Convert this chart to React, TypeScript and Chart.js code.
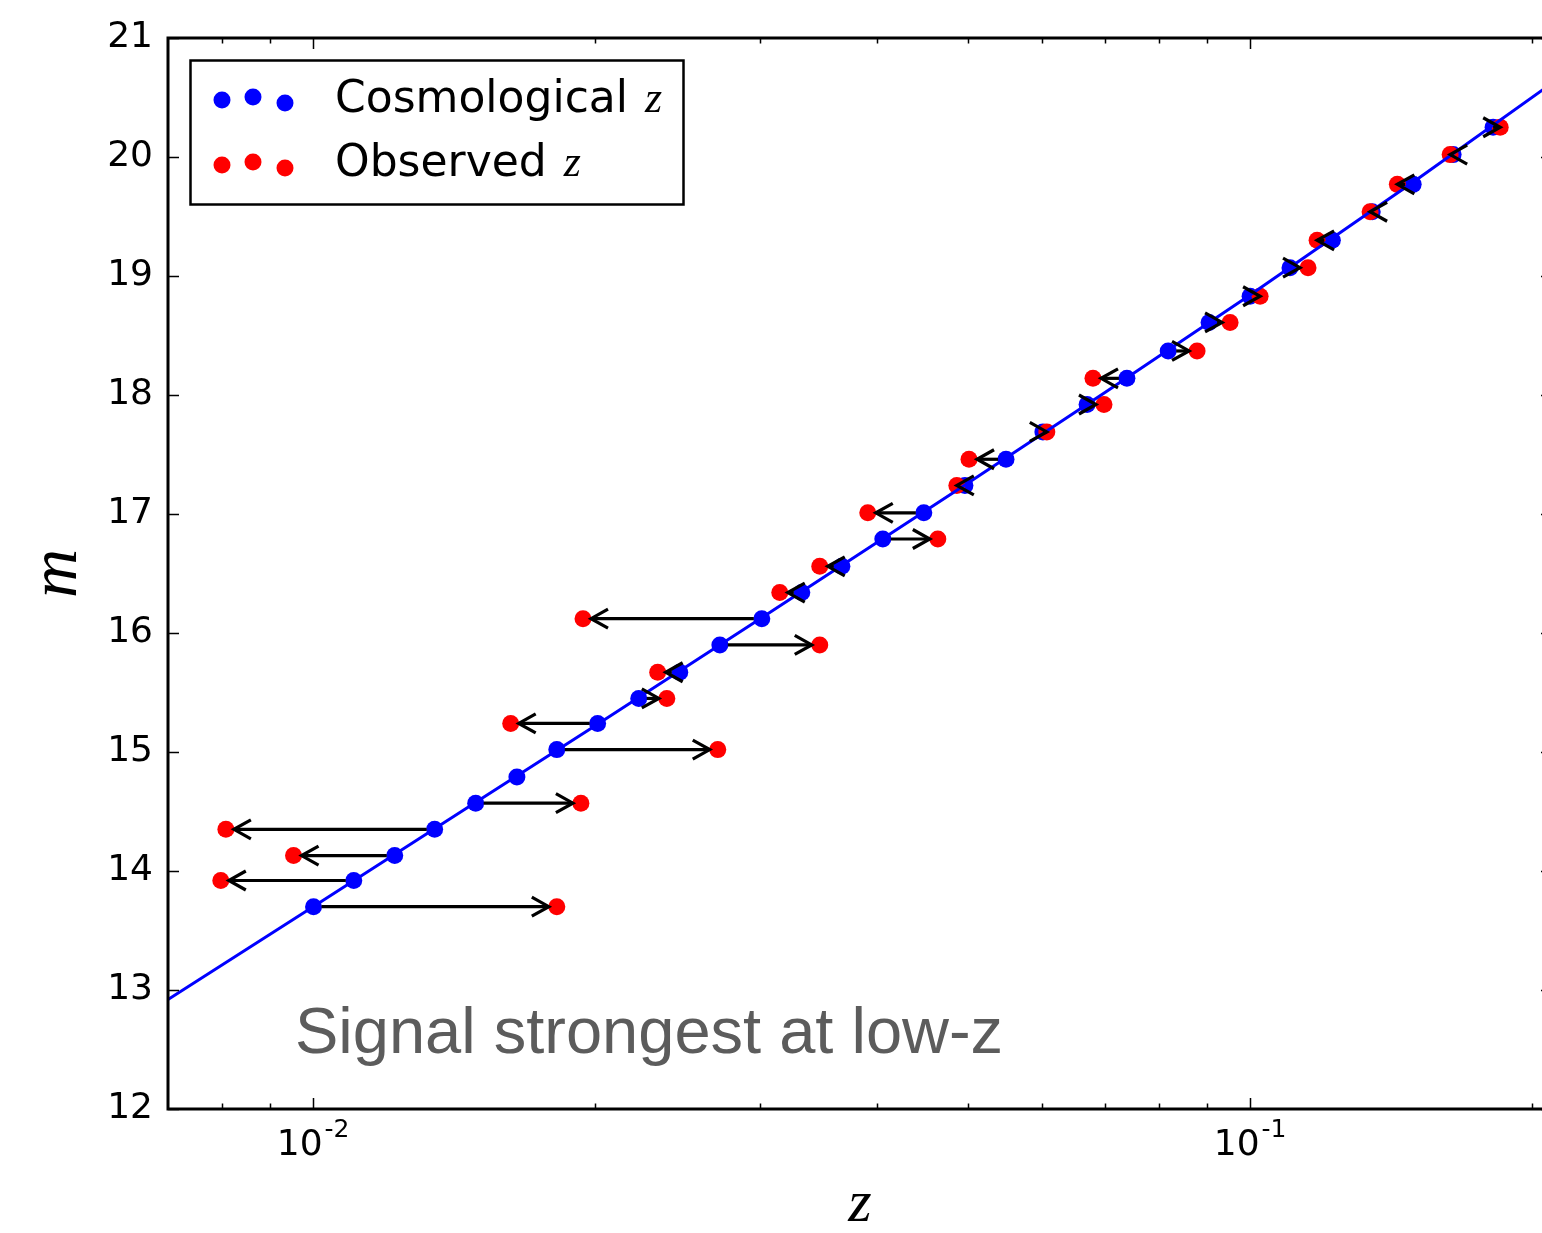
import React, { useEffect, useRef } from 'react';
import { Chart, registerables } from 'chart.js';

Chart.register(...registerables);

// Cosmological redshift of each object (blue points, on the Hubble line)
const cosmoZ = [
  0.01001, 0.01105, 0.01222, 0.01348, 0.01491, 0.0165, 0.0182, 0.02012, 0.02226, 0.02462,
  0.02717, 0.03012, 0.03323, 0.03667, 0.04055, 0.04485, 0.04962, 0.05489, 0.0601, 0.06699,
  0.07388, 0.08177, 0.09041, 0.1, 0.1103, 0.1224, 0.135, 0.1493, 0.1647, 0.1817,
];
// Observed redshift of each object (red points); null = outside the plotted range
const observedZ = [
  0.0182, 0.00797, 0.00953, 0.00807, 0.01931, null, 0.02703, 0.01625, 0.02385, 0.02332,
  0.03473, 0.01941, 0.03148, 0.03473, 0.04642, 0.03908, 0.04864, 0.05012, 0.06068, 0.06983,
  0.06797, 0.08778, 0.0952, 0.10249, 0.1153, 0.1179, 0.1343, 0.1436, 0.1635, 0.1849,
];
// Apparent magnitude of each object
const magnitudes = [
  13.7, 13.92, 14.13, 14.35, 14.57, 14.79, 15.02, 15.24, 15.45, 15.67,
  15.9, 16.12, 16.34, 16.56, 16.79, 17.01, 17.24, 17.46, 17.69, 17.92,
  18.14, 18.37, 18.61, 18.83, 19.07, 19.3, 19.54, 19.77, 20.02, 20.25,
];
// Hubble relation curve
const lineZ = [0.007, 0.01, 0.015, 0.02, 0.03, 0.05, 0.07, 0.1, 0.15, 0.21];
const lineM = [12.92, 13.7, 14.59, 15.22, 16.12, 17.26, 18.02, 18.84, 19.8, 20.62];

const yTickValues = [12, 13, 14, 15, 16, 17, 18, 19, 20, 21];
const xMajorTicks = [0.01, 0.1];
const xMajorLabelBase = ['10', '10'];
const xMajorLabelExp = ['-2', '-1'];
const xMinorTicks = [0.008, 0.009, 0.02, 0.03, 0.04, 0.05, 0.06, 0.07, 0.08, 0.09, 0.2];

const legendLabels = ['Cosmological', 'Observed'];
const legendColors = ['#0000ff', '#ff0000'];
const annotationText = 'Signal strongest at low-z';

const X_MIN = 0.007;
const X_MAX = 0.21;
const Y_MIN = 12;
const Y_MAX = 21;

const W = 1570;
const H = 1233;

const decorPlugin = {
  id: 'decor',
  afterDatasetsDraw(chart: any) {
    const { ctx, scales } = chart;
    const x = scales.x;
    const y = scales.y;
    ctx.save();
    ctx.strokeStyle = '#000';
    ctx.lineWidth = 3.2;
    ctx.lineJoin = 'miter';
    ctx.lineCap = 'butt';
    for (let i = 0; i < cosmoZ.length; i++) {
      const oz = observedZ[i];
      if (oz == null) continue;
      const ax = x.getPixelForValue(cosmoZ[i]);
      const ay = y.getPixelForValue(magnitudes[i]);
      const bx = x.getPixelForValue(oz);
      const by = ay;
      const d = Math.hypot(bx - ax, by - ay);
      if (d < 0.5) continue;
      const ux = (bx - ax) / d;
      const uy = (by - ay) / d;
      const S = 8;
      let sx = ax;
      let sy = ay;
      if (d > S) {
        sx = ax + ux * S;
        sy = ay + uy * S;
      }
      const rem = Math.hypot(bx - sx, by - sy);
      let ex = bx;
      let ey = by;
      if (rem > S) {
        ex = bx - ux * S;
        ey = by - uy * S;
      }
      ctx.beginPath();
      ctx.moveTo(sx, sy);
      ctx.lineTo(ex, ey);
      ctx.stroke();
      const hl = 17;
      const hw = 9.5;
      const nx = -uy;
      const ny = ux;
      ctx.beginPath();
      ctx.moveTo(ex - ux * hl + nx * hw, ey - uy * hl + ny * hw);
      ctx.lineTo(ex, ey);
      ctx.lineTo(ex - ux * hl - nx * hw, ey - uy * hl - ny * hw);
      ctx.stroke();
    }
    ctx.restore();
  },
  afterDraw(chart: any) {
    const { ctx, chartArea, scales } = chart;
    const x = scales.x;
    const y = scales.y;
    const { left, right, top, bottom } = chartArea;
    ctx.save();

    // ticks (inward, all four sides)
    ctx.strokeStyle = '#000';
    ctx.lineWidth = 1.5;
    const major = 11;
    const minor = 5.5;
    ctx.beginPath();
    yTickValues.forEach((v) => {
      const py = Math.round(y.getPixelForValue(v)) + 0.5;
      ctx.moveTo(left, py);
      ctx.lineTo(left + major, py);
      ctx.moveTo(right, py);
      ctx.lineTo(right - major, py);
    });
    xMajorTicks.forEach((v) => {
      const px = Math.round(x.getPixelForValue(v)) + 0.5;
      ctx.moveTo(px, bottom);
      ctx.lineTo(px, bottom - major);
      ctx.moveTo(px, top);
      ctx.lineTo(px, top + major);
    });
    xMinorTicks.forEach((v) => {
      const px = Math.round(x.getPixelForValue(v)) + 0.5;
      ctx.moveTo(px, bottom);
      ctx.lineTo(px, bottom - minor);
      ctx.moveTo(px, top);
      ctx.lineTo(px, top + minor);
    });
    ctx.stroke();

    // frame
    ctx.lineWidth = 3;
    ctx.strokeRect(left, top, right - left, bottom - top);

    // x tick labels with superscript exponents
    ctx.fillStyle = '#000';
    ctx.textBaseline = 'alphabetic';
    xMajorTicks.forEach((v, i) => {
      const px = x.getPixelForValue(v);
      ctx.font = '36px "DejaVu Sans"';
      const bw = ctx.measureText(xMajorLabelBase[i]).width;
      ctx.font = '25px "DejaVu Sans"';
      const ew = ctx.measureText(xMajorLabelExp[i]).width;
      const total = bw + ew + 2;
      const x0 = px - total / 2;
      ctx.textAlign = 'left';
      ctx.font = '36px "DejaVu Sans"';
      ctx.fillText(xMajorLabelBase[i], x0, 1155);
      ctx.font = '25px "DejaVu Sans"';
      ctx.fillText(xMajorLabelExp[i], x0 + bw + 2, 1137);
    });

    // legend
    const lx = 190.5;
    const ly = 60.5;
    const lw = 493;
    const lh = 144;
    ctx.fillStyle = '#fff';
    ctx.fillRect(lx, ly, lw, lh);
    ctx.lineWidth = 2.5;
    ctx.strokeStyle = '#000';
    ctx.strokeRect(lx, ly, lw, lh);
    const dotX = [222, 253, 285];
    const dotDy = [0, -3, 3];
    const rowY = [100, 165];
    const baseY = [112, 176];
    legendLabels.forEach((label, r) => {
      ctx.fillStyle = legendColors[r];
      dotX.forEach((dx, k) => {
        ctx.beginPath();
        ctx.arc(dx, rowY[r] + dotDy[k], 8.5, 0, Math.PI * 2);
        ctx.fill();
      });
      ctx.fillStyle = '#000';
      ctx.textAlign = 'left';
      ctx.font = '44px "DejaVu Sans"';
      ctx.fillText(label, 335, baseY[r]);
      const tw = ctx.measureText(label).width;
      ctx.font = 'italic 44px "Liberation Serif"';
      ctx.fillText('z', 335 + tw + 17, baseY[r]);
    });

    // annotation
    ctx.fillStyle = '#5c5c5c';
    ctx.font = '65px "Liberation Sans"';
    ctx.textAlign = 'left';
    ctx.fillText(annotationText, 295, 1053);

    ctx.restore();
  },
};

export default function App() {
  const canvasRef = useRef<HTMLCanvasElement | null>(null);

  useEffect(() => {
    const canvas = canvasRef.current;
    if (!canvas) return;
    const blue = cosmoZ.map((z, i) => ({ x: z, y: magnitudes[i] }));
    const red: { x: number; y: number }[] = [];
    observedZ.forEach((z, i) => {
      if (z != null) red.push({ x: z, y: magnitudes[i] });
    });
    const line = lineZ.map((z, i) => ({ x: z, y: lineM[i] }));

    const chart = new Chart(canvas, {
      type: 'scatter',
      data: {
        datasets: [
          {
            type: 'line',
            label: 'Hubble relation',
            data: line,
            borderColor: '#0000ff',
            borderWidth: 3,
            pointRadius: 0,
            fill: false,
            tension: 0,
            order: 0,
          } as any,
          {
            label: 'Observed z',
            data: red,
            backgroundColor: '#ff0000',
            borderWidth: 0,
            pointRadius: 8.5,
            order: 1,
          },
          {
            label: 'Cosmological z',
            data: blue,
            backgroundColor: '#0000ff',
            borderWidth: 0,
            pointRadius: 8.5,
            order: 2,
          },
        ],
      },
      options: {
        responsive: false,
        animation: false,
        devicePixelRatio: 1,
        events: [],
        layout: { padding: { top: 38, right: W - 1552, bottom: 0, left: 0 } },
        plugins: {
          legend: { display: false },
          tooltip: { enabled: false },
        },
        scales: {
          x: {
            type: 'logarithmic',
            min: X_MIN,
            max: X_MAX,
            ticks: { display: false },
            grid: { display: false, drawTicks: false },
            border: { display: false },
            title: {
              display: true,
              text: 'z',
              color: '#000',
              font: { family: '"Liberation Serif"', style: 'italic', size: 60, lineHeight: 0.9 },
              padding: { top: 0, bottom: 1 },
            },
            afterFit: (scale: any) => {
              scale.height = H - 1109;
            },
          },
          y: {
            type: 'linear',
            min: Y_MIN,
            max: Y_MAX,
            ticks: {
              stepSize: 1,
              autoSkip: false,
              color: '#000',
              padding: 15,
              font: { family: '"DejaVu Sans"', size: 36 },
            },
            grid: { display: false, drawTicks: false },
            border: { display: false },
            title: {
              display: true,
              text: 'm',
              color: '#000',
              font: { family: '"Liberation Serif"', style: 'italic', size: 68, lineHeight: 0.9 },
              padding: { top: 28, bottom: 0 },
            },
            afterFit: (scale: any) => {
              scale.width = 168;
            },
          },
        },
      },
      plugins: [decorPlugin],
    });
    return () => chart.destroy();
  }, []);

  return (
    <div
      style={{
        position: 'absolute',
        left: 0,
        top: 0,
        width: 1542,
        height: H,
        overflow: 'hidden',
        background: '#fff',
      }}
    >
      <canvas ref={canvasRef} width={W} height={H} style={{ width: W, height: H, display: 'block' }} />
    </div>
  );
}
